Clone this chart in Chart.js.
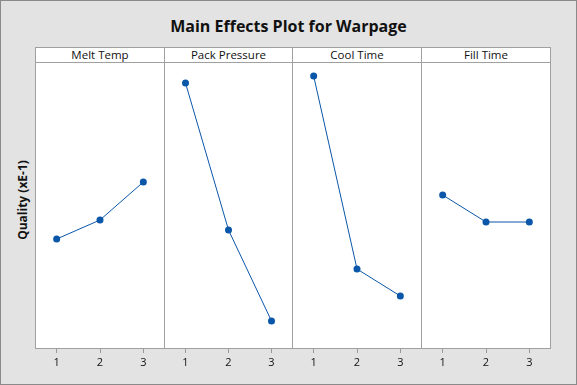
<!DOCTYPE html>
<html>
<head>
<meta charset="utf-8">
<script src="https://cdn.jsdelivr.net/npm/chart.js@4/dist/chart.umd.min.js"></script>
<style>
  html,body{margin:0;padding:0;}
  body{width:577px;height:385px;overflow:hidden;font-family:"Open Sans","Noto Sans",sans-serif;}
  #frame{position:absolute;left:0;top:0;width:575px;height:383px;background:#e3e3e3;border:1px solid #8a8a8a;}
  #title{position:absolute;left:0;width:577px;top:15px;text-align:center;font-size:16px;font-weight:bold;color:#111;}
  #ylab{position:absolute;left:22px;top:200px;transform:translate(-50%,-50%) rotate(-90deg);white-space:nowrap;font-size:12px;font-weight:bold;color:#111;}
  .panel{position:absolute;top:47px;height:302px;background:#fff;border:1px solid #a0a0a0;box-sizing:border-box;}
  .hdr{position:absolute;left:0;right:0;top:0;height:14px;border-bottom:1px solid #a0a0a0;text-align:center;font-size:11.5px;line-height:14px;color:#111;}
  canvas{position:absolute;}
</style>
</head>
<body>
<div id="frame"></div>
<div id="title">Main Effects Plot for Warpage</div>
<div id="ylab">Quality (xE-1)</div>
<div id="panels"></div>
<script>
// factor names and levels
const factors=["Melt Temp","Pack Pressure","Cool Time","Fill Time"];
const levels=["1","2","3"];
// mean quality per level (xE-1)
const meltTemp=[1.10,1.29,1.67];
const packPressure=[2.66,1.19,0.28];
const coolTime=[2.73,0.80,0.53];
const fillTime=[1.54,1.27,1.27];
const series=[meltTemp,packPressure,coolTime,fillTime];
const yMin=0,yMax=2.87;

const edges=[35,164,292,421,550];
const host=document.getElementById("panels");
factors.forEach((f,i)=>{
  const x0=edges[i],x1=edges[i+1];
  const p=document.createElement("div");
  p.className="panel";
  p.style.left=x0+"px";p.style.width=(x1-x0+1)+"px";
  p.innerHTML=`<div class="hdr">${f}</div>`;
  host.appendChild(p);
  const cv=document.createElement("canvas");
  cv.style.left=x0+"px";cv.style.top="62px";
  cv.style.width=(x1-x0+1)+"px";cv.style.height="317px";
  cv.width=x1-x0+1;cv.height=317;
  document.body.appendChild(cv);
  new Chart(cv,{type:"line",
    data:{labels:levels,datasets:[{data:series[i],borderColor:"#0a56a8",backgroundColor:"#0a56a8",
      borderWidth:1,pointRadius:3.5,pointBorderWidth:0,tension:0,clip:false}]},
    options:{responsive:false,animation:false,layout:{padding:0,autoPadding:false},
      plugins:{legend:{display:false},tooltip:{enabled:false}},
      scales:{
        x:{offset:true,border:{display:false},
          grid:{drawOnChartArea:false,tickLength:4,color:"#999"},
          ticks:{color:"#111",padding:3,font:{family:"Open Sans",size:11}},
          afterFit:s=>{s.height=30;}},
        y:{display:false,min:yMin,max:yMax}
      }}});
});
</script>
</body>
</html>
